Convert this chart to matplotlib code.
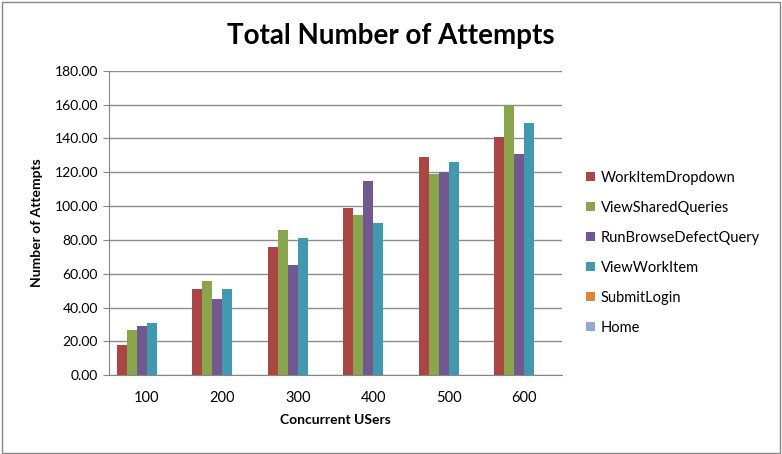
import numpy as np
import matplotlib
matplotlib.use("Agg")
import matplotlib.pyplot as plt
from matplotlib.patches import Rectangle

plt.rcParams['font.family'] = ['Lato', 'DejaVu Sans']

users = ["100", "200", "300", "400", "500", "600"]
series = ["WorkItemDropdown", "ViewSharedQueries", "RunBrowseDefectQuery",
          "ViewWorkItem", "SubmitLogin", "Home"]
work_item_dropdown = [18, 51, 76, 99, 129, 141]
view_shared_queries = [27, 56, 86, 95, 119, 159]
run_browse_defect = [29, 45, 65, 115, 120, 131]
view_work_item = [31, 51, 81, 90, 126, 149]
submit_login = [0, 0, 0, 0, 0, 0]
home = [0, 0, 0, 0, 0, 0]
colors = ["#AA4643", "#89A54E", "#71588F", "#4198AF", "#DB843D", "#93A9CF"]

values = [work_item_dropdown, view_shared_queries, run_browse_defect,
          view_work_item, submit_login, home]

fig = plt.figure(figsize=(7.82, 4.54), dpi=100)
ax = fig.add_axes([0.1394, 0.1733, 0.5793, 0.6710])

x = np.arange(len(users))
w = 1 / 7.55
for i, (name, vals) in enumerate(zip(series, values)):
    ax.bar(x + (i - 2.5) * w, vals, w, color=colors[i], label=name, zorder=3)

ax.set_xlim(-0.5, len(users) - 0.5)
ax.set_ylim(0, 180)
ax.set_yticks(np.arange(0, 181, 20))
ax.set_yticklabels(["%.2f" % v for v in np.arange(0, 181, 20)], fontsize=10)
ax.set_xticks(x)
ax.set_xticklabels(users, fontsize=10.5)
ax.tick_params(axis='x', length=0, pad=11)
ax.tick_params(axis='y', length=4, color="#868686", pad=4)
ax.grid(axis='y', color="#8C8C8C", linewidth=1, zorder=0)
for s in ["top", "right"]:
    ax.spines[s].set_visible(False)
ax.spines["left"].set_color("#868686")
ax.spines["bottom"].set_color("#868686")

ax.set_xlabel("Concurrent USers", fontsize=10, fontweight="bold", labelpad=7)
ax.set_ylabel("Number of Attempts", fontsize=10, fontweight="bold", labelpad=8)
fig.text(0.5, 0.92, "Total Number of Attempts", fontsize=20, fontweight="bold",
         ha="center", va="center")

fig.legend(loc="center left", bbox_to_anchor=(0.733, 0.443), frameon=False,
           fontsize=10.5, handlelength=0.6, handleheight=0.6, labelspacing=1.1,
           handletextpad=0.4)

fig.patches.append(Rectangle((0.002, 0.003), 0.995, 0.993, transform=fig.transFigure,
                             fill=False, edgecolor="#868686", linewidth=1))

fig.savefig("out.png", dpi=100)
